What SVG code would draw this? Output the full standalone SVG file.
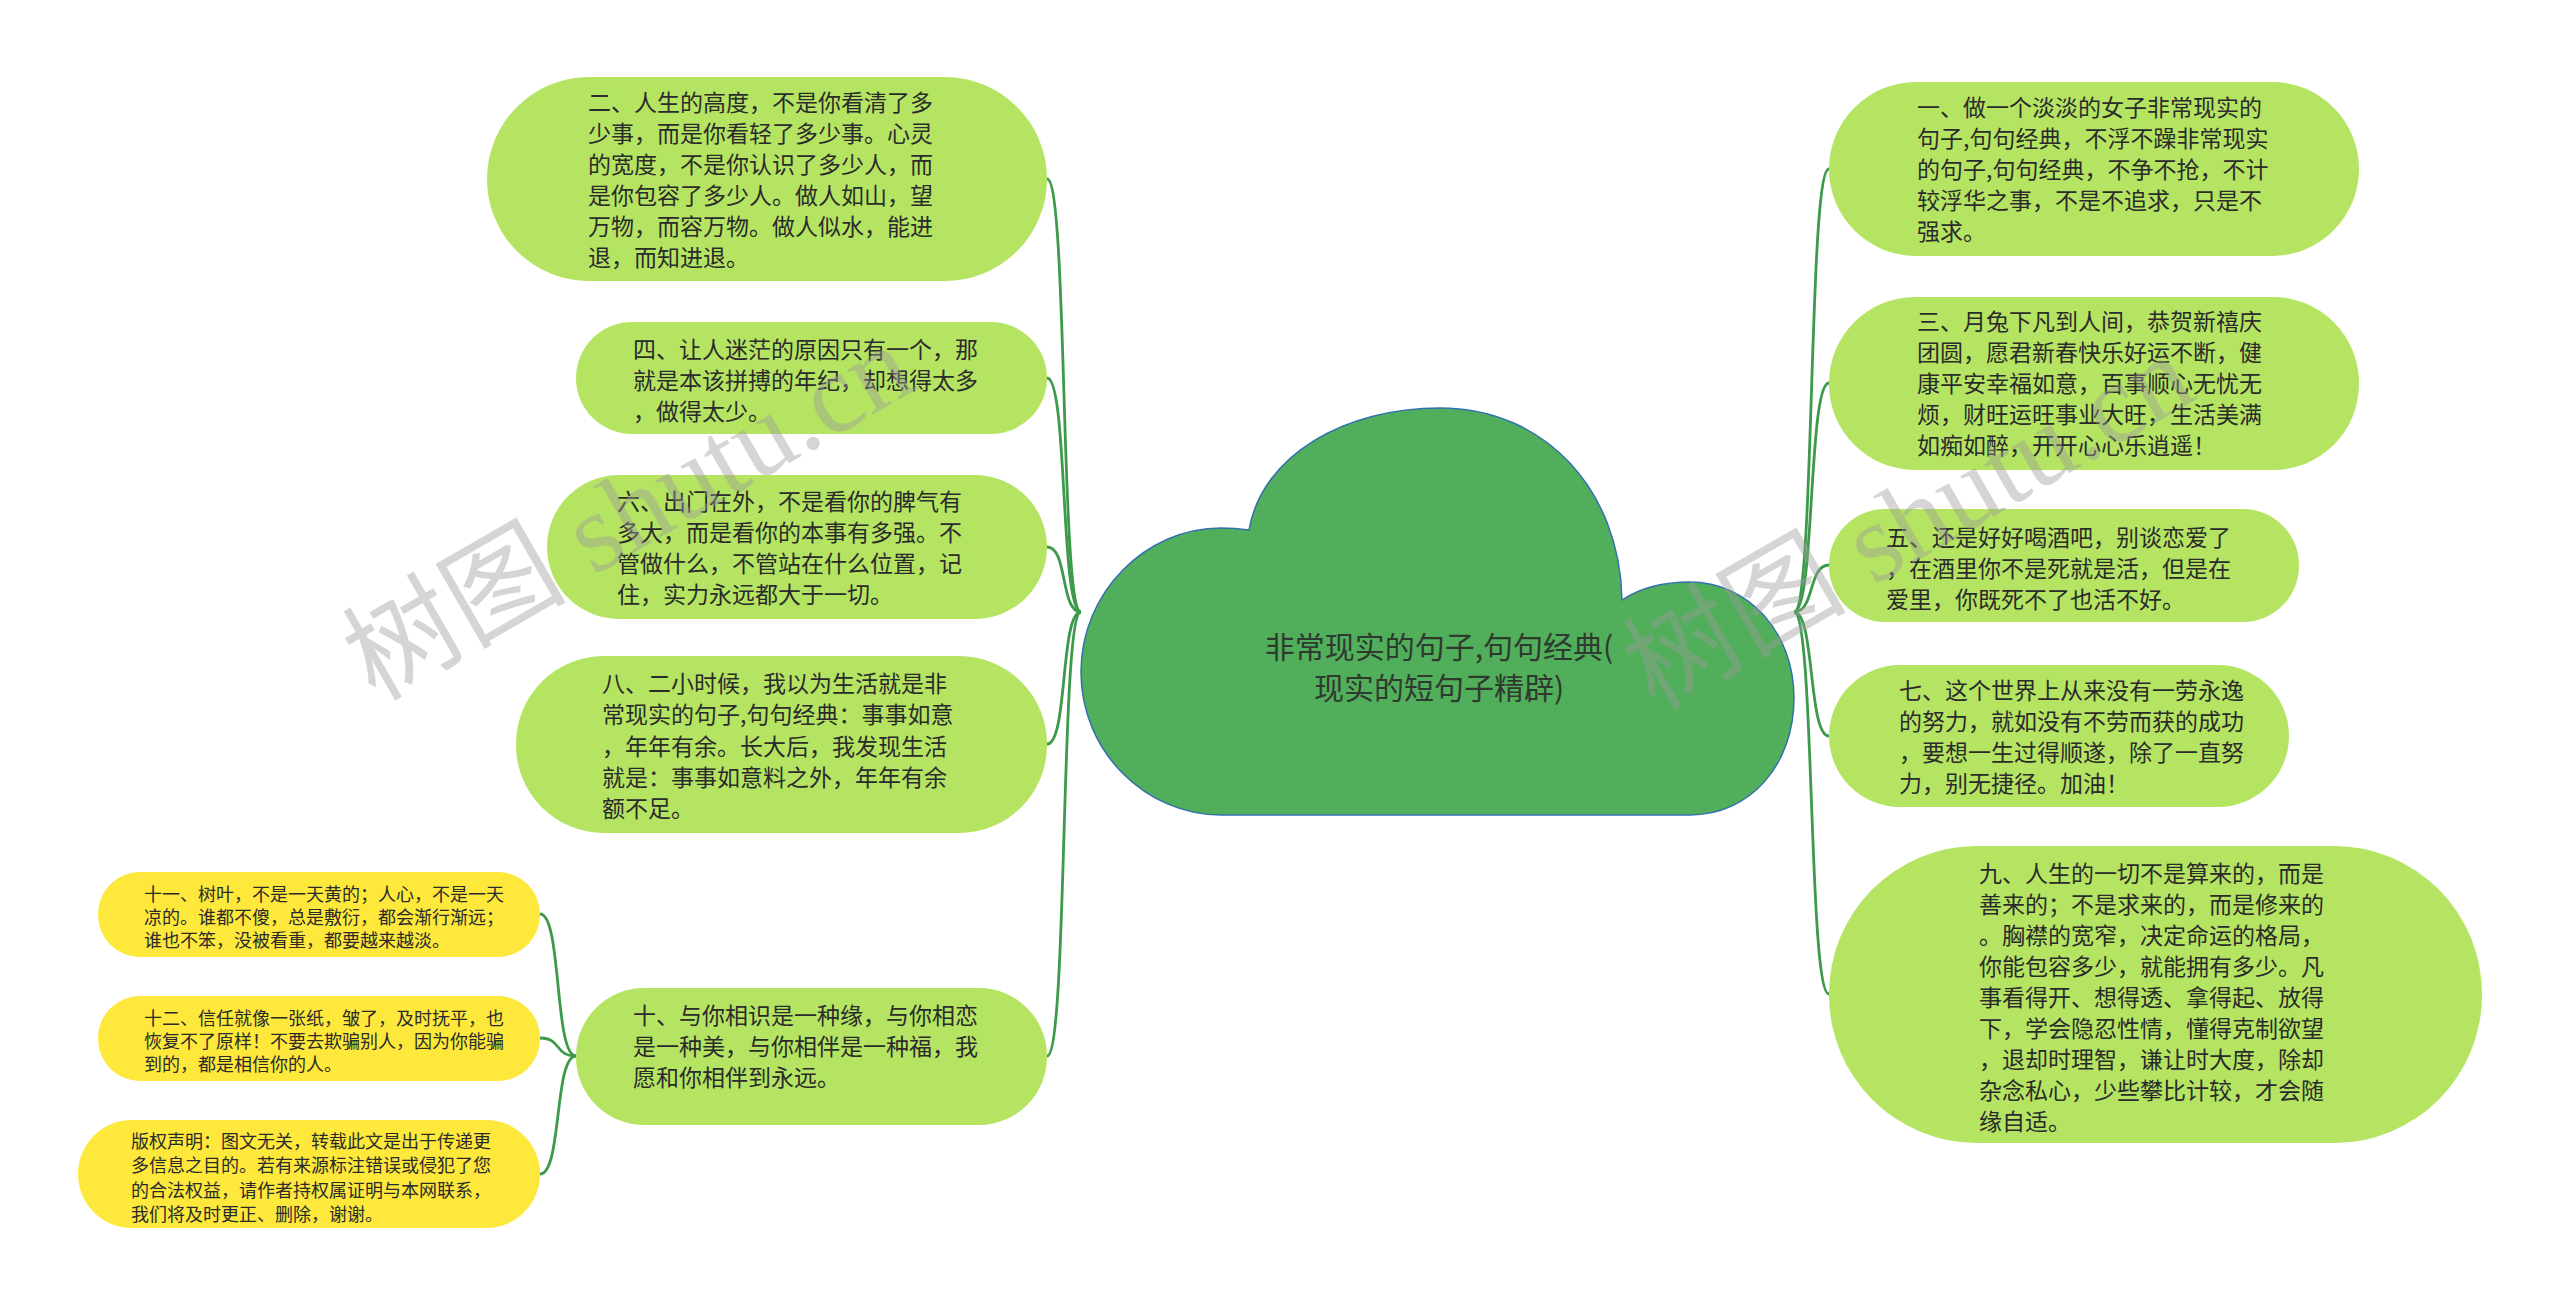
<svg xmlns="http://www.w3.org/2000/svg" width="2560" height="1308" viewBox="0 0 2560 1308">
<style>
.bg{fill:#ffffff}
.g{fill:#b5e462}
.y{fill:#fde83b}
.t{font-family:"Noto Sans CJK SC","Noto Sans",sans-serif;font-size:23px;fill:#2b2b2b;dominant-baseline:central}
.ts{font-family:"Noto Sans CJK SC","Noto Sans",sans-serif;font-size:18px;fill:#2b2b2b;dominant-baseline:central}
.tc{font-family:"Noto Sans CJK SC","Noto Sans",sans-serif;font-size:30px;fill:#2f3a2f;dominant-baseline:central;text-anchor:middle}
.c{fill:none;stroke:#3c9a4a;stroke-width:2.8}
.wm{font-family:"Liberation Serif","Noto Sans CJK SC",serif;font-size:112px;fill:#9a9a9a;fill-opacity:0.42}
</style>
<rect class="bg" x="0" y="0" width="2560" height="1308"/>
<g id="connectors">
<path class="c" d="M1081,612 C1060,612 1068,179 1047,179"/>
<path class="c" d="M1081,612 C1060,612 1068,378 1047,378"/>
<path class="c" d="M1081,612 C1060,612 1068,547 1047,547"/>
<path class="c" d="M1081,612 C1060,612 1068,744 1047,744"/>
<path class="c" d="M1081,612 C1060,612 1068,1056 1047,1056"/>
<path class="c" d="M1794,612 C1815,612 1808,169 1829,169"/>
<path class="c" d="M1794,612 C1815,612 1808,383 1829,383"/>
<path class="c" d="M1794,612 C1815,612 1808,565 1829,565"/>
<path class="c" d="M1794,612 C1815,612 1808,736 1829,736"/>
<path class="c" d="M1794,612 C1815,612 1808,994 1829,994"/>
<path class="c" d="M576,1056 C554,1056 562,914 540,914"/>
<path class="c" d="M576,1056 C554,1056 562,1038 540,1038"/>
<path class="c" d="M576,1056 C554,1056 562,1174 540,1174"/>
</g>
<g id="root">
<path d="M1249,530 C1262,455 1345,408 1440,408 C1545,408 1620,490 1622,600 C1640,588 1662,582 1690,582 C1748,582 1794,632 1794,698 C1794,765 1750,815 1690,815 L1221,815 C1146,815 1081,752 1081,672 C1081,592 1146,528 1221,528 C1232,528 1242,529 1249,530 Z" fill="#51ae5b" stroke="#3470b0" stroke-width="1.5"/>
<text class="tc" x="1439" y="645">非常现实的句子,句句经典(</text>
<text class="tc" x="1439" y="686">现实的短句子精辟)</text>
</g>
<g id="n2">
<rect class="g" x="487" y="77" width="560" height="204" rx="102"/>
<text class="t" x="588" y="101">二、人生的高度，不是你看清了多</text>
<text class="t" x="588" y="132">少事，而是你看轻了多少事。心灵</text>
<text class="t" x="588" y="163">的宽度，不是你认识了多少人，而</text>
<text class="t" x="588" y="194">是你包容了多少人。做人如山，望</text>
<text class="t" x="588" y="225">万物，而容万物。做人似水，能进</text>
<text class="t" x="588" y="256">退，而知进退。</text>
</g>
<g id="n4">
<rect class="g" x="576" y="322" width="471" height="112" rx="56"/>
<text class="t" x="633" y="348">四、让人迷茫的原因只有一个，那</text>
<text class="t" x="633" y="379">就是本该拼搏的年纪，却想得太多</text>
<text class="t" x="633" y="410">，做得太少。</text>
</g>
<g id="n6">
<rect class="g" x="547" y="475" width="500" height="144" rx="72"/>
<text class="t" x="617" y="500">六、出门在外，不是看你的脾气有</text>
<text class="t" x="617" y="531">多大，而是看你的本事有多强。不</text>
<text class="t" x="617" y="562">管做什么，不管站在什么位置，记</text>
<text class="t" x="617" y="593">住，实力永远都大于一切。</text>
</g>
<g id="n8">
<rect class="g" x="516" y="656" width="531" height="177" rx="88"/>
<text class="t" x="602" y="682">八、二小时候，我以为生活就是非</text>
<text class="t" x="602" y="713">常现实的句子,句句经典：事事如意</text>
<text class="t" x="602" y="745">，年年有余。长大后，我发现生活</text>
<text class="t" x="602" y="776">就是：事事如意料之外，年年有余</text>
<text class="t" x="602" y="807">额不足。</text>
</g>
<g id="n10">
<rect class="g" x="576" y="988" width="471" height="137" rx="68"/>
<text class="t" x="633" y="1014">十、与你相识是一种缘，与你相恋</text>
<text class="t" x="633" y="1045">是一种美，与你相伴是一种福，我</text>
<text class="t" x="633" y="1076">愿和你相伴到永远。</text>
</g>
<g id="n11">
<rect class="y" x="98" y="872" width="442" height="85" rx="42"/>
<text class="ts" x="144" y="893">十一、树叶，不是一天黄的；人心，不是一天</text>
<text class="ts" x="144" y="916">凉的。谁都不傻，总是敷衍，都会渐行渐远；</text>
<text class="ts" x="144" y="939">谁也不笨，没被看重，都要越来越淡。</text>
</g>
<g id="n12">
<rect class="y" x="98" y="996" width="442" height="85" rx="42"/>
<text class="ts" x="144" y="1017">十二、信任就像一张纸，皱了，及时抚平，也</text>
<text class="ts" x="144" y="1040">恢复不了原样！不要去欺骗别人，因为你能骗</text>
<text class="ts" x="144" y="1063">到的，都是相信你的人。</text>
</g>
<g id="n13">
<rect class="y" x="78" y="1120" width="462" height="108" rx="54"/>
<text class="ts" x="131" y="1140">版权声明：图文无关，转载此文是出于传递更</text>
<text class="ts" x="131" y="1164">多信息之目的。若有来源标注错误或侵犯了您</text>
<text class="ts" x="131" y="1189">的合法权益，请作者持权属证明与本网联系，</text>
<text class="ts" x="131" y="1213">我们将及时更正、删除，谢谢。</text>
</g>
<g id="n1">
<rect class="g" x="1829" y="82" width="530" height="174" rx="87"/>
<text class="t" x="1917" y="106">一、做一个淡淡的女子非常现实的</text>
<text class="t" x="1917" y="137">句子,句句经典，不浮不躁非常现实</text>
<text class="t" x="1917" y="168">的句子,句句经典，不争不抢，不计</text>
<text class="t" x="1917" y="199">较浮华之事，不是不追求，只是不</text>
<text class="t" x="1917" y="230">强求。</text>
</g>
<g id="n3">
<rect class="g" x="1829" y="297" width="530" height="173" rx="86"/>
<text class="t" x="1917" y="320">三、月兔下凡到人间，恭贺新禧庆</text>
<text class="t" x="1917" y="351">团圆，愿君新春快乐好运不断，健</text>
<text class="t" x="1917" y="382">康平安幸福如意，百事顺心无忧无</text>
<text class="t" x="1917" y="413">烦，财旺运旺事业大旺，生活美满</text>
<text class="t" x="1917" y="444">如痴如醉，开开心心乐逍遥！</text>
</g>
<g id="n5">
<rect class="g" x="1829" y="509" width="470" height="113" rx="56"/>
<text class="t" x="1886" y="536">五、还是好好喝酒吧，别谈恋爱了</text>
<text class="t" x="1886" y="567">，在酒里你不是死就是活，但是在</text>
<text class="t" x="1886" y="598">爱里，你既死不了也活不好。</text>
</g>
<g id="n7">
<rect class="g" x="1829" y="665" width="460" height="142" rx="71"/>
<text class="t" x="1899" y="689">七、这个世界上从来没有一劳永逸</text>
<text class="t" x="1899" y="720">的努力，就如没有不劳而获的成功</text>
<text class="t" x="1899" y="751">，要想一生过得顺遂，除了一直努</text>
<text class="t" x="1899" y="782">力，别无捷径。加油！</text>
</g>
<g id="n9">
<rect class="g" x="1829" y="846" width="653" height="297" rx="148"/>
<text class="t" x="1979" y="872">九、人生的一切不是算来的，而是</text>
<text class="t" x="1979" y="903">善来的；不是求来的，而是修来的</text>
<text class="t" x="1979" y="934">。胸襟的宽窄，决定命运的格局，</text>
<text class="t" x="1979" y="965">你能包容多少，就能拥有多少。凡</text>
<text class="t" x="1979" y="996">事看得开、想得透、拿得起、放得</text>
<text class="t" x="1979" y="1027">下，学会隐忍性情，懂得克制欲望</text>
<text class="t" x="1979" y="1058">，退却时理智，谦让时大度，除却</text>
<text class="t" x="1979" y="1089">杂念私心，少些攀比计较，才会随</text>
<text class="t" x="1979" y="1120">缘自适。</text>
</g>
<g id="watermarks">
<text class="wm" x="375" y="702" transform="rotate(-30 375 702)">树图 shutu.cn</text>
<text class="wm" x="1655" y="712" transform="rotate(-30 1655 712)">树图 shutu.cn</text>
</g>
</svg>
